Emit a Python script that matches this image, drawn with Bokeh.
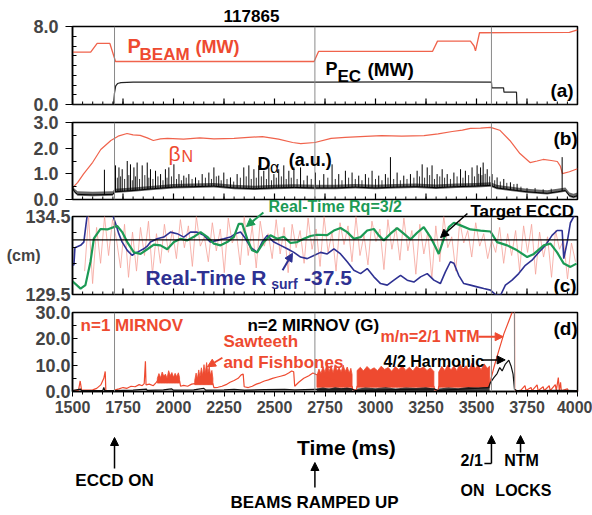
import numpy as np
from bokeh.plotting import figure
from bokeh.layouts import column
from bokeh.models import (Range1d, FixedTicker, PrintfTickFormatter, Span, Label,
                          Arrow, NormalHead)
from bokeh.embed import file_html
from bokeh.resources import INLINE

# ---------------- data ----------------
shot_label = "117865"
x_ticks = [1500, 1750, 2000, 2250, 2500, 2750, 3000, 3250, 3500, 3750, 4000]
x_minor = [1500 + 50 * i for i in range(51)]
event_times = [1708, 2700, 3574]
ntm_lock_time = 3688

# (a) beam power and EC power (MW)
beam_t = [1500, 1590, 1622, 1685, 1713, 2696, 2718, 3282, 3307, 3470, 3488, 3495, 3515, 3960, 4000]
beam_v = [5.37, 5.37, 6.26, 6.26, 4.41, 4.41, 5.44, 5.44, 6.5, 6.5, 6.0, 5.5, 7.36, 7.4, 7.66]
ec_t = [1500, 1703, 1708, 1714, 1723, 1740, 1800, 2200, 2700, 3200, 3574, 3576, 3634, 3636, 3698, 3700, 4000]
ec_v = [0.0, 0.0, 1.2, 1.9, 2.15, 2.25, 2.29, 2.29, 2.3, 2.32, 2.3, 1.71, 1.71, 1.26, 1.26, 0.0, 0.0]

# (b) beta_N and D-alpha
betaN = [(1500, 0.45), (1525, 0.66), (1555, 1.0), (1600, 1.45), (1640, 1.95), (1690, 2.3),
         (1730, 2.48), (1770, 2.57), (1800, 2.52), (1835, 2.5), (1870, 2.4), (1900, 2.3),
         (1935, 2.36), (1970, 2.38), (2050, 2.35), (2130, 2.4), (2200, 2.36), (2300, 2.38),
         (2370, 2.42), (2440, 2.45), (2520, 2.35), (2590, 2.22), (2630, 2.18), (2700, 2.22),
         (2780, 2.38), (2850, 2.42), (2950, 2.46), (3030, 2.49), (3130, 2.47), (3240, 2.49),
         (3310, 2.56), (3380, 2.65), (3430, 2.7), (3470, 2.77), (3520, 2.78), (3570, 2.81),
         (3615, 2.7), (3665, 2.3), (3715, 1.79), (3765, 1.44), (3800, 1.5), (3830, 1.56),
         (3870, 1.52), (3900, 1.48), (3915, 1.3), (3925, 1.01), (3960, 1.08), (4000, 1.2)]
da_base = [(1500, 0.45), (1510, 0.3), (1525, 0.2), (1600, 0.18), (1700, 0.2), (1708, 0.3),
           (1800, 0.35), (1900, 0.42), (2000, 0.48), (2100, 0.5), (2200, 0.52), (2300, 0.45),
           (2400, 0.42), (2500, 0.45), (2600, 0.47), (2700, 0.45), (2800, 0.45), (2900, 0.48),
           (3000, 0.45), (3100, 0.48), (3200, 0.5), (3300, 0.46), (3400, 0.5), (3500, 0.52),
           (3570, 0.55), (3600, 0.45), (3650, 0.4), (3700, 0.35), (3750, 0.3), (3800, 0.27),
           (3850, 0.24), (3900, 0.3), (3940, 0.35), (3960, 0.15), (3980, 0.1), (4000, 0.15)]
da_spikes = [(1658, 1.16), (1713, 1.33), (1730, 1.25), (1746, 1.18), (1771, 1.5), (1787, 1.37),
             (1804, 1.25), (1820, 1.44), (1845, 1.33), (1870, 1.44), (1886, 1.18), (1911, 1.12),
             (1936, 0.99), (1960, 1.18), (1977, 1.25), (2002, 1.37), (2027, 0.99), (2051, 0.93),
             (2076, 0.99), (2109, 0.86), (2142, 0.99), (2175, 1.05), (2200, 1.25), (2224, 0.93),
             (2249, 1.05), (2282, 0.86), (2315, 0.99), (2348, 1.25), (2373, 1.33), (2398, 1.18),
             (2422, 1.33), (2447, 1.12), (2472, 1.25), (2497, 0.99), (2521, 1.18), (2546, 1.33),
             (2571, 1.12), (2596, 1.25), (2629, 1.25), (2662, 0.93), (2703, 1.05), (2744, 0.99),
             (2785, 1.37), (2818, 0.99), (2851, 1.12), (2884, 1.05), (2917, 0.93), (2950, 0.99),
             (2983, 1.12), (3016, 0.93), (3049, 0.99), (3074, 1.65), (3107, 1.05), (3140, 0.93),
             (3173, 0.99), (3206, 1.12), (3231, 1.37), (3256, 1.25), (3280, 1.33), (3305, 0.99),
             (3330, 1.18), (3355, 0.99), (3388, 1.05), (3421, 1.18), (3445, 1.12), (3478, 1.25),
             (3503, 1.33), (3520, 1.25), (3533, 1.44), (3553, 1.18), (3577, 0.99), (3602, 0.86),
             (3635, 0.8), (3668, 0.67), (3701, 0.61), (3924, 1.65)]
da_small = [(1722, 0.85), (1738, 0.9), (1758, 0.8), (1779, 0.95), (1796, 0.75), (1812, 0.9),
            (1832, 0.8), (1858, 0.95), (1878, 0.85), (1898, 0.8), (1923, 0.9), (1948, 0.75),
            (1968, 0.85), (1990, 0.9), (2015, 0.8), (2039, 0.75), (2063, 0.85), (2092, 0.8),
            (2125, 0.75), (2158, 0.85), (2188, 0.8), (2212, 0.9), (2236, 0.75), (2265, 0.8),
            (2298, 0.7), (2331, 0.85), (2360, 0.9), (2385, 0.8), (2410, 0.85), (2435, 0.9),
            (2460, 0.8), (2485, 0.75), (2509, 0.85), (2534, 0.9), (2558, 0.8), (2583, 0.85),
            (2612, 0.8), (2645, 0.75), (2682, 0.8), (2723, 0.75), (2764, 0.85), (2801, 0.8),
            (2834, 0.75), (2867, 0.85), (2900, 0.8), (2933, 0.75), (2966, 0.85), (3000, 0.8),
            (3032, 0.75), (3062, 0.85), (3090, 0.8), (3123, 0.75), (3156, 0.8), (3190, 0.85),
            (3218, 0.9), (3243, 0.85), (3268, 0.95), (3292, 0.8), (3318, 0.9), (3342, 0.85),
            (3371, 0.8), (3404, 0.9), (3433, 0.85), (3461, 0.95), (3490, 0.9), (3511, 1.0),
            (3527, 0.95), (3543, 1.0), (3565, 0.9), (3590, 0.75), (3618, 0.7), (3650, 0.65),
            (3685, 0.6), (3720, 0.5), (3750, 0.45), (3790, 0.45), (3830, 0.4), (3870, 0.42)]

# (c) positions (cm)
rq_line = [(1500, 130.35), (1540, 129.88), (1564, 130.1), (1589, 131.6), (1606, 133.1), (1639, 133.7),
           (1672, 133.67), (1721, 133.9), (1746, 133.5), (1771, 132.86), (1804, 132.2), (1837, 132.1),
           (1870, 132.4), (1903, 132.7), (1936, 132.65), (1969, 132.4), (2002, 132.86), (2035, 133.07),
           (2068, 132.97), (2101, 133.2), (2134, 133.5), (2167, 133.2), (2200, 132.76), (2233, 132.65),
           (2266, 132.86), (2299, 133.2), (2323, 134.03), (2340, 134.03), (2365, 133.07), (2389, 132.33),
           (2414, 132.2), (2447, 132.86), (2480, 133.3), (2513, 133.07), (2546, 133.2), (2579, 132.8),
           (2612, 132.86), (2645, 133.07), (2678, 133.25), (2711, 133.33), (2761, 133.3), (2794, 133.6),
           (2827, 133.76), (2860, 133.5), (2893, 133.07), (2926, 133.18), (2959, 133.6), (2992, 133.7),
           (3016, 133.29), (3041, 132.97), (3074, 133.4), (3107, 133.76), (3140, 133.4), (3173, 133.03),
           (3206, 133.46), (3239, 133.82), (3272, 133.18), (3297, 132.54), (3313, 132.1), (3338, 133.07),
           (3363, 133.82), (3388, 134.1), (3421, 133.93), (3470, 133.67), (3520, 133.6), (3569, 133.54),
           (3602, 132.86), (3652, 132.65), (3701, 132.33), (3751, 131.9), (3784, 132.1), (3833, 132.65),
           (3866, 132.76), (3899, 132.2), (3932, 131.48), (3965, 131.27), (3995, 131.48)]
rsurf_line = [(1500, 131.37), (1507, 131.4), (1512, 132.5), (1540, 132.65), (1556, 132.86), (1566, 133.9),
              (1573, 134.6), (1582, 135.5), (1690, 135.5), (1700, 134.6), (1705, 134.35), (1717, 133.9),
              (1729, 133.4), (1746, 132.86), (1771, 132.33), (1796, 132.0), (1808, 132.15), (1820, 132.2),
              (1853, 132.43), (1870, 132.6), (1886, 132.86), (1919, 133.07), (1952, 133.18), (1985, 133.5),
              (2018, 133.4), (2051, 133.18), (2084, 133.5), (2117, 133.5), (2150, 133.29), (2183, 132.86),
              (2216, 132.97), (2249, 133.07), (2282, 133.18), (2307, 133.4), (2332, 133.5), (2357, 133.07),
              (2381, 132.54), (2414, 132.2), (2439, 132.86), (2464, 133.29), (2497, 132.86), (2530, 132.65),
              (2563, 132.43), (2596, 132.2), (2629, 131.9), (2662, 131.8), (2695, 132.0), (2728, 132.2),
              (2761, 132.1), (2794, 132.43), (2827, 132.1), (2860, 131.6), (2893, 131.05), (2926, 130.84),
              (2959, 131.16), (2992, 130.63), (3025, 130.2), (3058, 130.1), (3091, 130.42), (3124, 130.73),
              (3157, 130.42), (3190, 130.3), (3223, 130.63), (3256, 130.84), (3289, 130.42), (3321, 130.2),
              (3346, 130.95), (3371, 131.6), (3388, 131.5), (3412, 130.73), (3437, 130.2), (3470, 130.1),
              (3503, 129.99), (3536, 129.88), (3569, 129.78), (3594, 129.5), (3619, 129.45), (3643, 130.1),
              (3676, 130.42), (3709, 130.84), (3742, 131.37), (3775, 131.7), (3808, 132.2), (3841, 132.65),
              (3874, 133.29), (3899, 133.6), (3924, 133.6), (3932, 131.8), (3949, 132.86), (3965, 134.1),
              (3982, 134.5), (4000, 134.9)]
target_start, target_end = 1560, 3990
target_v = [131.0, 134.5, 130.2, 133.8, 131.5, 134.5, 132.0, 134.3,
            133.0, 131.2, 134.0, 130.6, 133.5, 131.0, 133.8, 132.0, 134.2, 130.8, 133.4, 131.5, 134.0, 132.2, 133.6,
            131.8, 134.3, 132.5, 133.9, 131.3, 134.5, 132.6, 133.2, 131.6, 134.1, 132.3, 133.7, 130.9, 134.4, 132.8,
            133.5, 131.4, 134.5, 132.0, 133.9, 131.2, 134.2, 132.6, 133.4, 131.8, 134.3, 132.1, 133.8, 130.9, 134.0,
            132.5, 133.6, 131.5, 134.4, 132.4,
            133.7, 131.3, 134.5, 132.2, 133.5, 131.0, 134.1, 132.7, 133.9, 131.6, 134.5, 132.0, 133.3, 131.4, 134.2,
            132.9, 133.7, 131.1, 134.3, 132.4,
            133.8, 131.7, 134.4, 132.3, 133.6, 130.8, 134.0, 132.1, 133.5, 130.5, 133.9, 131.6, 134.5, 132.5, 133.2,
            131.0, 134.2, 132.8, 133.6, 131.9, 134.1, 132.6, 133.4, 131.8,
            133.0, 132.2, 133.8, 131.5, 133.4, 132.0, 133.6,
            131.0, 133.9, 132.2, 134.0, 130.8, 133.5, 131.9, 133.2, 130.6, 133.6, 132.4, 133.0, 130.5, 132.8, 131.6]
target_level = 133.0

# (d) Mirnov amplitudes (G)
n1_line = [(1500, 0.3), (1530, 0.5), (1538, 4.0), (1545, 0.5), (1600, 0.6), (1620, 1.2), (1640, 2.5),
           (1655, 5.0), (1662, 7.6), (1665, 0.4), (1700, 0.3), (1712, 0.6), (1730, 1.0), (1750, 1.5),
           (1770, 1.2), (1790, 2.0), (1810, 1.8), (1830, 2.6), (1845, 2.2), (1855, 3.0), (1861, 11.5),
           (1864, 2.5), (1880, 2.8), (1900, 2.2), (1915, 3.5), (1925, 4.5), (2030, 4.0), (2035, 2.0),
           (2050, 2.3), (2070, 2.0), (2090, 2.8), (2105, 3.0), (2195, 3.0), (2200, 1.5), (2220, 1.6),
           (2240, 2.0), (2260, 2.6), (2280, 3.5), (2300, 4.2), (2320, 5.0), (2335, 6.3), (2345, 6.6),
           (2350, 1.8), (2370, 1.5), (2390, 2.0), (2410, 2.8), (2430, 3.3), (2450, 4.0), (2470, 4.4),
           (2490, 5.0), (2510, 5.4), (2530, 5.8), (2550, 6.2), (2570, 7.0), (2585, 7.8), (2595, 7.5),
           (2600, 2.0), (2620, 3.5), (2645, 5.0), (2670, 6.0), (2690, 7.0), (2705, 6.5), (2884, 2.0),
           (2888, 0.6), (2905, 0.6), (2909, 2.0), (3289, 2.0), (3293, 0.5), (3310, 0.5), (3313, 2.0),
           (3565, 3.0), (3569, 4.0), (3586, 9.1), (3610, 15.4), (3635, 21.8), (3660, 26.8), (3676, 30.0),
           (3682, 33.0), (3688, 33.0), (3689, 0.3), (3700, 0.2), (3720, 0.5), (3740, 2.2), (3745, 0.4),
           (3770, 1.5), (3775, 0.3), (3800, 2.5), (3805, 0.3), (3830, 1.8), (3835, 0.3), (3860, 2.2),
           (3865, 0.3), (3890, 2.6), (3895, 0.3), (3905, 5.3), (3910, 0.3), (3916, 3.5), (3920, 0.3),
           (3950, 1.0), (3955, 0.3), (4000, 0.3)]
n1_bands = [
    (3.2, [(1920, 5.0), (1928, 6.8), (1936, 5.2), (1944, 7.4), (1952, 5.8), (1960, 6.6), (1968, 5.0),
           (1976, 7.9), (1984, 6.0), (1992, 7.2), (2000, 5.4), (2008, 6.9), (2016, 5.6), (2024, 7.1), (2030, 5.3)]),
    (2.6, [(2105, 4.2), (2112, 7.0), (2118, 4.8), (2125, 8.2), (2131, 5.5), (2138, 9.0), (2144, 6.0),
           (2151, 10.2), (2157, 6.8), (2164, 11.0), (2170, 7.0), (2177, 9.4), (2183, 6.2), (2190, 8.0), (2195, 5.0)]),
    (1.6, [(2710, 6.0), (2720, 8.5), (2730, 6.8), (2740, 9.5), (2750, 7.2), (2760, 11.0), (2770, 7.5),
           (2780, 9.8), (2790, 7.0), (2800, 10.2), (2810, 7.8), (2820, 9.0), (2830, 7.4), (2840, 10.0),
           (2850, 7.6), (2860, 9.3), (2870, 7.0), (2878, 8.8), (2884, 6.5)]),
    (1.6, [(2909, 8.0), (2925, 9.2), (2940, 7.8), (2958, 9.5), (2975, 8.2), (2993, 9.0), (3010, 7.9),
           (3028, 9.6), (3045, 8.4), (3063, 9.1), (3080, 7.7), (3098, 9.4), (3115, 8.3), (3133, 9.7),
           (3150, 8.0), (3168, 9.2), (3185, 7.8), (3203, 9.5), (3220, 8.6), (3238, 9.3), (3255, 8.0),
           (3272, 9.0), (3289, 7.6)]),
    (1.6, [(3313, 7.4), (3328, 9.5), (3343, 8.0), (3358, 10.0), (3373, 8.2), (3388, 9.6), (3403, 7.9),
           (3418, 10.4), (3433, 8.5), (3448, 9.8), (3463, 8.1), (3478, 10.8), (3493, 8.7), (3508, 9.9),
           (3523, 8.3), (3538, 10.5), (3553, 8.8), (3565, 9.6)]),
]
n2_line = [(1500, 0.3), (1540, 0.9), (1545, 0.3), (1650, 0.4), (1655, 1.5), (1660, 0.3), (1708, 0.3),
           (1800, 0.5), (1866, 0.9), (1870, 0.4), (1950, 0.6), (1990, 1.0), (2000, 0.5), (2100, 0.6),
           (2150, 1.2), (2160, 0.5), (2250, 0.6), (2300, 0.8), (2350, 0.5), (2450, 0.7), (2550, 0.8),
           (2600, 0.6), (2700, 0.8), (2880, 1.0), (2900, 0.4), (3290, 1.0), (3310, 0.4), (3560, 1.5),
           (3569, 3.4), (3586, 5.3), (3602, 6.8), (3615, 9.1), (3627, 7.8), (3643, 10.4), (3660, 11.9),
           (3671, 9.7), (3681, 6.6), (3688, 0.9), (3700, 0.3), (3800, 0.3), (3900, 0.4), (4000, 0.3)]
n2_bands = [
    [(2710, 1.1), (2740, 1.5), (2770, 1.0), (2800, 1.6), (2830, 1.2), (2860, 1.5), (2884, 1.0)],
    [(2909, 1.0), (2950, 1.5), (3000, 1.2), (3050, 1.6), (3100, 1.1), (3150, 1.5), (3200, 1.3),
     (3250, 1.6), (3289, 1.0)],
    [(3313, 1.1), (3360, 1.5), (3410, 1.2), (3460, 1.7), (3510, 1.4), (3565, 1.8)],
]

# ---------------- styling ----------------
FONT = "Liberation Sans"
RED = "#ee4a30"
RED_LINE = "#f0634c"
GREEN = "#1c9a55"
BLUE = "#2e3192"
PINK = "#f5a39a"
GRAY = "#8a8a8a"

xr = Range1d(1500, 4000)


def panel(height, top, bottom, frame_h, ylo, yhi, ymaj, ymin, outer_ticks, show_x=False, margin_top=0):
    p = figure(width=592, height=height, x_range=xr, y_range=Range1d(ylo, yhi),
               output_backend="svg", toolbar_location=None, title=None,
               x_axis_location="below" if show_x else None,
               min_border_left=72, min_border_right=15, min_border_top=top,
               min_border_bottom=bottom)
    if margin_top:
        p.margin = (margin_top, 0, 0, 0)
        p.border_fill_color = None
    p.xgrid.visible = False
    p.ygrid.visible = False
    p.outline_line_color = "black"
    p.outline_line_width = 1.5
    ya = p.yaxis[0]
    ya.ticker = FixedTicker(ticks=ymaj, minor_ticks=ymin)
    ya.formatter = PrintfTickFormatter(format="%.1f")
    ya.major_label_text_font = FONT
    ya.major_label_text_font_style = "bold"
    ya.major_label_text_font_size = "18px"
    ya.axis_line_width = 1.5
    ya.major_tick_line_width = 1.2
    ya.minor_tick_in = 4
    ya.minor_tick_out = 0
    if outer_ticks:
        ya.major_tick_out = 7
        ya.major_tick_in = 0
        ya.major_label_standoff = 7
    else:
        ya.major_tick_out = 0
        ya.major_tick_in = 5
        ya.major_label_standoff = 2
    if show_x:
        xa = p.xaxis[0]
        xa.ticker = FixedTicker(ticks=x_ticks, minor_ticks=x_minor)
        xa.axis_line_width = 1.5
        xa.major_tick_out = 5
        xa.major_tick_in = 0
        xa.minor_tick_out = 3
        xa.minor_tick_in = 0
        xa.major_label_text_font = FONT
        xa.major_label_text_font_style = "bold"
        xa.major_label_text_font_size = "16px"
        xa.major_label_standoff = 4
    else:
        # inner tick marks along the bottom edge (no labels)
        unit = (yhi - ylo) / frame_h
        p.segment(x0=x_minor, y0=[ylo] * len(x_minor), x1=x_minor, y1=[ylo + 3 * unit] * len(x_minor),
                  line_color="black", line_width=1)
        p.segment(x0=x_ticks, y0=[ylo] * len(x_ticks), x1=x_ticks, y1=[ylo + 6 * unit] * len(x_ticks),
                  line_color="black", line_width=1.2)
    for t in event_times:
        p.add_layout(Span(location=t, dimension="height", line_color=GRAY, line_width=1))
    return p


def txt(p, x, y, s, size, color="black", style="bold", align="left"):
    p.add_layout(Label(x=x, y=y, text=s, text_font=FONT, text_font_size=f"{size}px",
                       text_font_style=style, text_color=color, text_align=align,
                       text_baseline="middle"))


def arrow(p, x0, y0, x1, y1, color="black", lw=1.5, size=8, head=True):
    end = NormalHead(size=size, fill_color=color, line_color=color) if head else None
    p.add_layout(Arrow(end=end, x_start=x0, y_start=y0, x_end=x1, y_end=y1,
                       line_color=color, line_width=lw))


# ---------------- (a) ----------------
pa = panel(117, 26, 13, 78, 0, 8, [0, 8], [1, 2, 3, 4, 5, 6, 7], True)
pa.line(beam_t, beam_v, line_color=RED_LINE, line_width=1.3)
pa.line(ec_t, ec_v, line_color="#222222", line_width=1.2)
txt(pa, 1772, 6.0, "P", 20, RED)
txt(pa, 1832, 5.13, "BEAM", 17, RED)
txt(pa, 2109, 5.9, "(MW)", 18, RED)
txt(pa, 2752, 3.59, "P", 18, "black")
txt(pa, 2812, 2.87, "EC", 17, "black")
txt(pa, 2960, 3.54, "(MW)", 19, "black")
txt(pa, 3866, 1.44, "(a)", 19)

# ---------------- (b) ----------------
pb = panel(98, 9, 12, 77, 0, 3, [0, 1, 2, 3], [0.5, 1.5, 2.5], True, margin_top=-4)
bt, bv = zip(*betaN)
pb.line(list(bt), list(bv), line_color=RED_LINE, line_width=1.2)
dbt, dbv = zip(*da_base)
dbt = np.array(dbt, dtype=float)
dbv = np.array(dbv, dtype=float)
pb.varea(x=dbt, y1=np.maximum(dbv - 0.05, 0.02), y2=dbv + 0.12, fill_color="black", fill_alpha=0.6)
pb.line(dbt, dbv, line_color="black", line_width=1)
for spikes, lw in ((da_small, 0.8), (da_spikes, 1.0)):
    st, sv = zip(*spikes)
    st = np.array(st, dtype=float)
    pb.segment(x0=st, y0=np.interp(st, dbt, dbv), x1=st, y1=list(sv), line_color="black", line_width=lw)
txt(pb, 1975, 1.8, "\u03b2", 21, RED, style="normal")
txt(pb, 2040, 1.68, "N", 16, RED, style="normal")
txt(pb, 2416, 1.38, "D", 18, "black")
txt(pb, 2478, 1.25, "\u03b1", 16, "black", style="normal")
txt(pb, 2570, 1.52, "(a.u.)", 18, "black")
txt(pb, 3881, 2.36, "(b)", 19)

# ---------------- (c) ----------------
pc = panel(111, 19, 14, 78, 129.5, 134.5, [129.5, 134.5], [130.5, 131.5, 132.5, 133.5], False,
           margin_top=-14)
ya_c = pc.yaxis[0]
ya_c.axis_label = "(cm)"
ya_c.axis_label_orientation = "horizontal"
ya_c.axis_label_text_font = FONT
ya_c.axis_label_text_font_style = "bold"
ya_c.axis_label_text_font_size = "16px"
ya_c.axis_label_standoff = -18
tgt_t = np.linspace(target_start, target_end, len(target_v))
pc.line(tgt_t, target_v, line_color=PINK, line_width=1, line_alpha=0.8)
pc.add_layout(Span(location=target_level, dimension="width", line_color="black", line_width=1.3))
rt, rv = zip(*rsurf_line)
pc.line(list(rt), list(rv), line_color=BLUE, line_width=1.6)
gt, gv = zip(*rq_line)
pc.line(list(gt), list(gv), line_color=GREEN, line_width=2.2)
txt(pc, 1861, 130.57, "Real-Time R", 21, BLUE)
txt(pc, 2484, 130.16, "surf", 14, BLUE)
txt(pc, 2646, 130.57, "-37.5", 21, BLUE)
arrow(pc, 2540, 131.05, 2589, 132.14, BLUE, lw=2)
txt(pc, 3881, 130.09, "(c)", 19)

# ---------------- (d) ----------------
pdd = panel(212, 9, 124, 79, 0, 30, [0, 10, 20, 30], [5, 15, 25], False, show_x=True, margin_top=-5)
pdd.add_layout(Span(location=ntm_lock_time, dimension="height", line_color=GRAY, line_width=1))
for lo, band in n1_bands:
    bt_, bh_ = zip(*band)
    pdd.patch(list(bt_) + list(bt_)[::-1], list(bh_) + [lo] * len(bt_),
              fill_color=RED, line_color=RED, line_width=0.8)
nt, nv = zip(*n1_line)
pdd.line(list(nt), list(nv), line_color=RED, line_width=1.2)
for band in n2_bands:
    bt_, bh_ = zip(*band)
    pdd.varea(x=list(bt_), y1=[0.2] * len(bt_), y2=list(bh_), fill_color="#111111", fill_alpha=0.8)
kt, kv = zip(*n2_line)
pdd.line(list(kt), list(kv), line_color="#111111", line_width=1.2)
txt(pdd, 1540, 24.9, "n=1 MIRNOV", 17, RED)
txt(pdd, 2366, 24.9, "n=2 MIRNOV (G)", 17, "black")
txt(pdd, 2247, 19.1, "Sawteeth", 17, RED)
txt(pdd, 2247, 11.1, "and Fishbones", 17, RED)
arrow(pdd, 2242, 12.8, 2168, 9.4, RED, lw=1.8)
txt(pdd, 3025, 20.8, "m/n=2/1 NTM", 16, RED)
arrow(pdd, 3510, 20.8, 3632, 20.8, RED, lw=1.8)
txt(pdd, 3040, 11.5, "4/2 Harmonic", 16, "black")
arrow(pdd, 3525, 12.0, 3642, 12.0, "black", lw=1.5)
txt(pdd, 3881, 24.0, "(d)", 19)

# ---------------- transparent overlay for text outside the panel frames ----------------
po = figure(width=592, height=515, x_range=xr, y_range=Range1d(515, 0),
            output_backend="svg", toolbar_location=None, title=None,
            x_axis_location=None, y_axis_location=None,
            min_border_left=72, min_border_right=15, min_border_top=0, min_border_bottom=0)
po.margin = (-515, 0, 0, 0)
po.grid.visible = False
po.outline_line_color = None
po.background_fill_color = None
po.border_fill_color = None
txt(po, 2386, 15, shot_label, 17, align="center")
txt(po, 2470, 206, "Real-Time Rq=3/2", 16, GREEN)
arrow(po, 2445, 212, 2361, 226, GREEN, lw=2)
txt(po, 3470, 211, "Target ECCD", 17, "black")
arrow(po, 3455, 213, 3322, 237, "black", lw=1.5)
txt(po, 2856, 447, "Time (ms)", 21, align="center")
arrow(po, event_times[0], 468, event_times[0], 437)
txt(po, event_times[0], 480, "ECCD ON", 17, align="center")
arrow(po, event_times[1], 487, event_times[1], 462)
txt(po, 2698, 502, "BEAMS RAMPED UP", 17, align="center")
arrow(po, 3539, 463, event_times[2], 463, head=False)
arrow(po, event_times[2], 463, event_times[2], 435)
txt(po, 3421, 460, "2/1", 16)
txt(po, 3421, 490, "ON", 16)
arrow(po, 3718, 452, 3718, 435)
txt(po, 3723, 460, "NTM", 16, align="center")
txt(po, 3732, 490, "LOCKS", 16, align="center")

layout = column(pa, pb, pc, pdd, po, spacing=0)
open("out.html", "w").write(file_html(layout, INLINE))
